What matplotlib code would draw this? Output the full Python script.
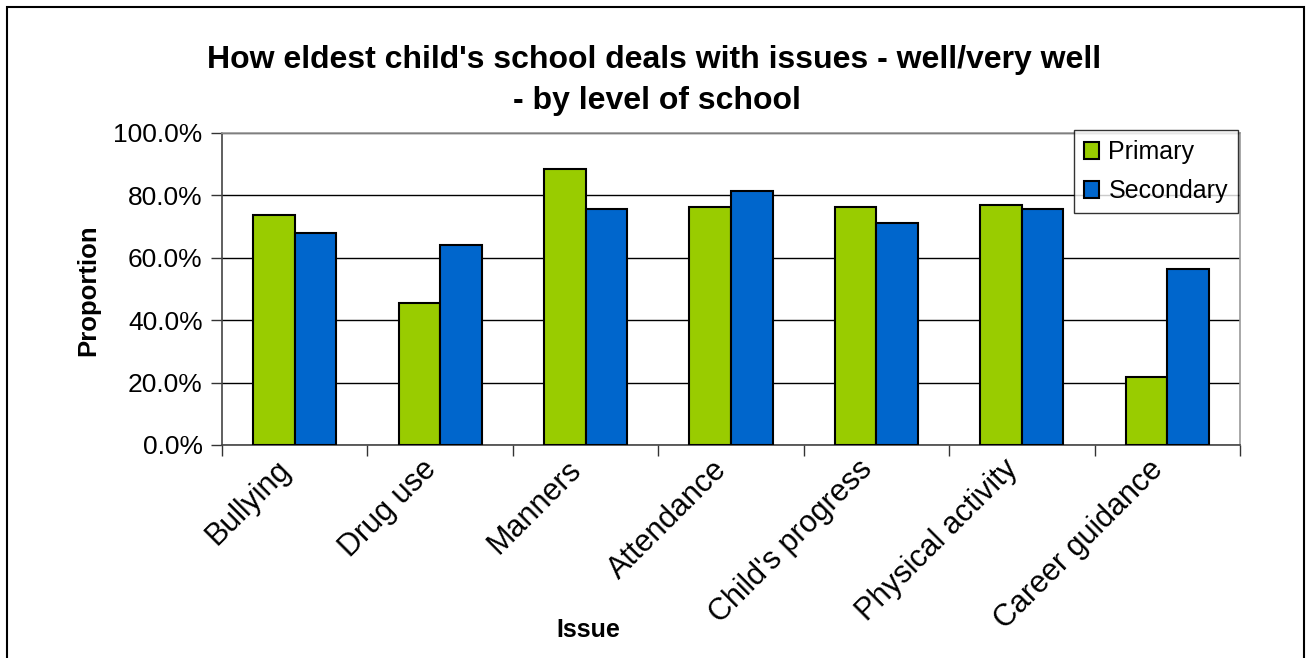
import matplotlib
matplotlib.use("Agg")
import matplotlib.pyplot as plt
import numpy as np
from matplotlib.patches import Rectangle
from matplotlib.ticker import FuncFormatter, FixedLocator

plt.rcParams['font.family'] = ['Liberation Sans', 'DejaVu Sans']

categories = ["Bullying", "Drug use", "Manners", "Attendance",
              "Child's progress", "Physical activity", "Career guidance"]
primary = [73.8, 45.6, 88.6, 76.3, 76.4, 76.9, 21.8]
secondary = [67.9, 64.2, 75.7, 81.5, 71.1, 75.7, 56.5]
series_names = ["Primary", "Secondary"]
yticks = [0, 20, 40, 60, 80, 100]

W, H = 1309, 658
fig = plt.figure(figsize=(W / 100, H / 100), dpi=100)
ax = fig.add_axes([222 / W, 1 - 445 / H, (1240 - 222) / W, (445 - 133) / H])

x = np.arange(len(categories))
bw = 0.286
ax.bar(x - bw / 2, primary, bw, color="#99CC00", edgecolor="black", linewidth=1.5,
       label=series_names[0], zorder=3)
ax.bar(x + bw / 2, secondary, bw, color="#0066CC", edgecolor="black", linewidth=1.5,
       label=series_names[1], zorder=3)

ax.set_xlim(-0.5, len(categories) - 0.5)
ax.set_ylim(0, 100)
ax.set_yticks(yticks)
ax.yaxis.set_major_formatter(FuncFormatter(lambda v, p: f"{v:.1f}%"))
ax.yaxis.grid(True, color="black", linewidth=1.0, zorder=0)
ax.set_axisbelow(True)

# category boundary ticks
ax.xaxis.set_major_locator(FixedLocator(np.arange(-0.5, len(categories), 1.0)))
ax.set_xticklabels([])
ax.tick_params(axis="x", which="major", length=8, width=1, color="#333333")
ax.tick_params(axis="y", length=8, width=1, color="#333333", labelsize=19, pad=6)

for i, c in enumerate(categories):
    ax.text(i - 0.13, -3.0, c, rotation=45, rotation_mode="anchor",
            ha="right", va="top", fontsize=22, transform=ax.transData)

for s in ["top", "right"]:
    ax.spines[s].set_color("#999999")
    ax.spines[s].set_linewidth(1.2)
for s in ["left", "bottom"]:
    ax.spines[s].set_color("#444444")
    ax.spines[s].set_linewidth(1.2)

leg = ax.legend(loc="upper right", bbox_to_anchor=(1238 / W, 1 - 130 / H),
                bbox_transform=fig.transFigure, fontsize=18, frameon=True,
                fancybox=False, edgecolor="black", handlelength=0.6,
                handleheight=0.7, handletextpad=0.4, borderpad=0.4,
                labelspacing=0.6, borderaxespad=0)
leg.get_frame().set_linewidth(1.0)

fig.text(0.5, 1 - 60 / H, "How eldest child's school deals with issues - well/very well",
         ha="center", va="center", fontsize=23, fontweight="bold")
fig.text(0.502, 1 - 101 / H, "- by level of school",
         ha="center", va="center", fontsize=23, fontweight="bold")
fig.text(88 / W, 1 - 290 / H, "Proportion", rotation=90, ha="center", va="center",
         fontsize=18.5, fontweight="bold")
fig.text(588 / W, 1 - 630 / H, "Issue", ha="center", va="center",
         fontsize=18, fontweight="bold")

fig.patches.append(Rectangle((7 / W, -0.1), (1304 - 7) / W, 1 - 7 / H + 0.1,
                             transform=fig.transFigure, fill=False,
                             edgecolor="black", linewidth=1.5))

fig.savefig("out.png", dpi=100)
